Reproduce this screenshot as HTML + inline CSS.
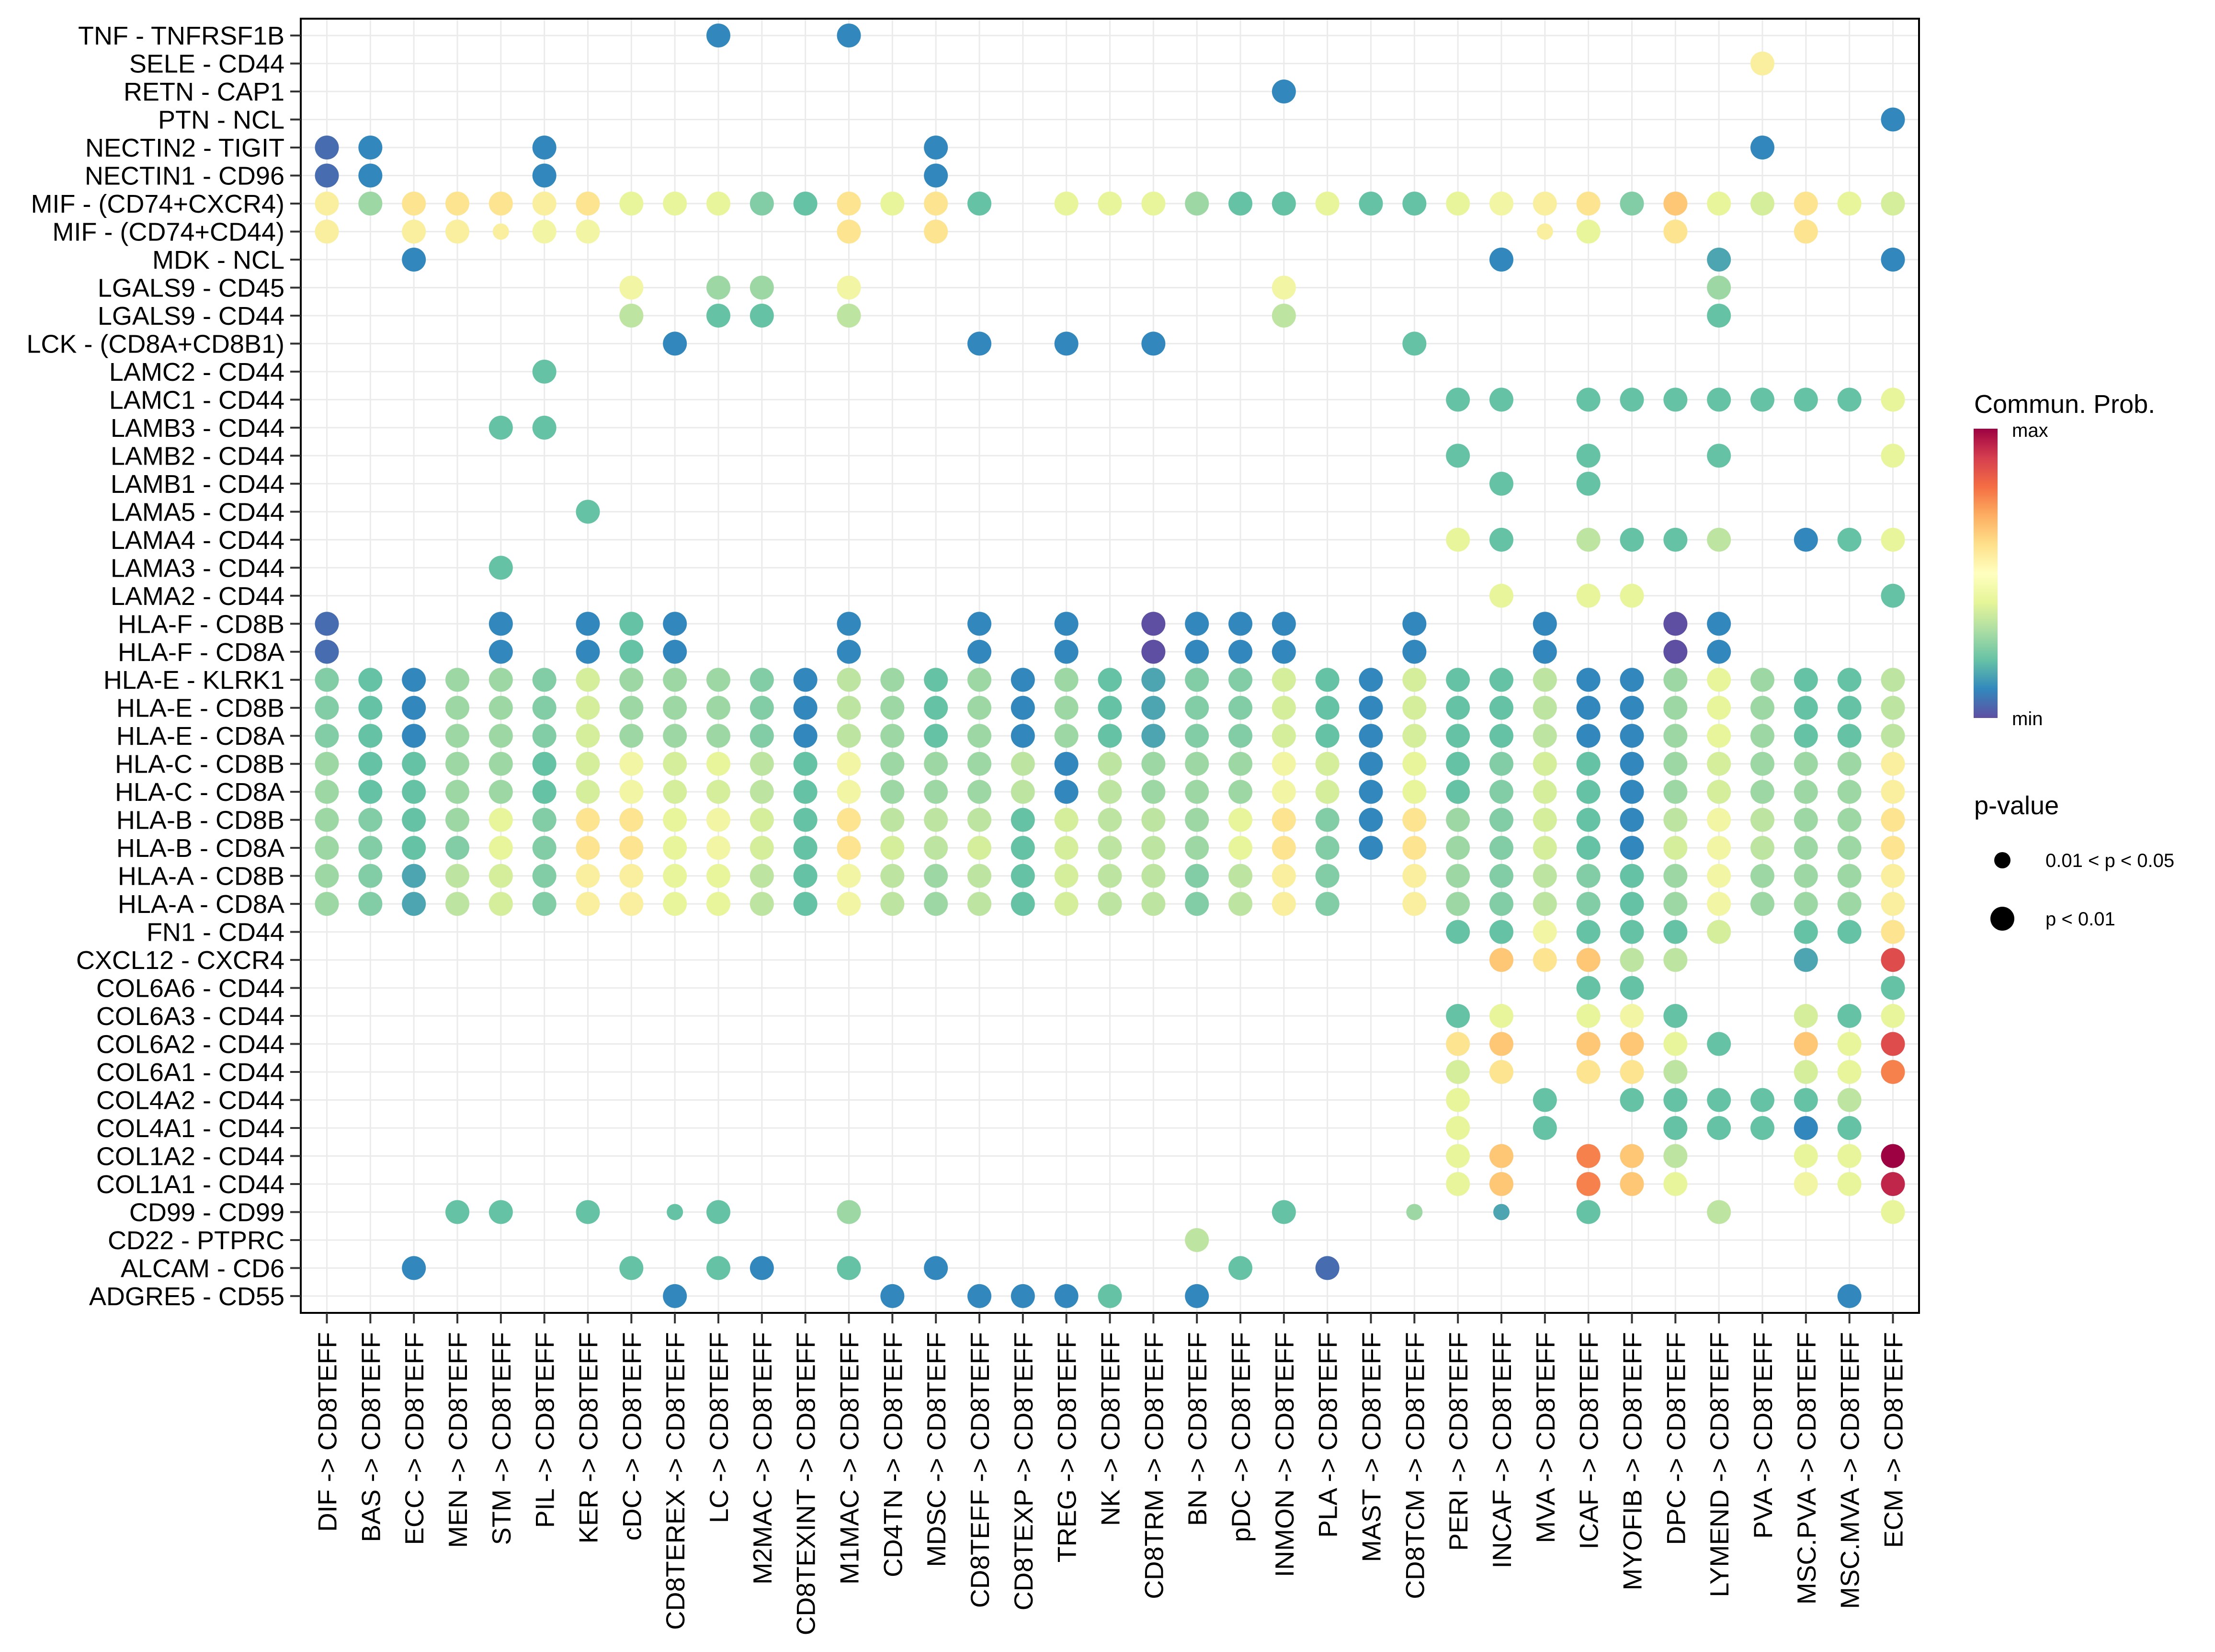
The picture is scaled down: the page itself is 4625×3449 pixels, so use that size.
<!DOCTYPE html>
<html><head><meta charset="utf-8"><title>CD8TEFF communication dot plot</title>
<style>
html,body{margin:0;padding:0;background:#fff;}
svg{display:block;font-family:"Liberation Sans",Arial,sans-serif;}
</style></head>
<body>
<svg id="chart" width="4625" height="3449" viewBox="0 0 4625 3449">
  <defs>
    <linearGradient id="spec" x1="0" y1="1" x2="0" y2="0">
      <stop offset="0" stop-color="#5E4FA2"/><stop offset="0.1" stop-color="#3288BD"/>
      <stop offset="0.2" stop-color="#66C2A5"/><stop offset="0.3" stop-color="#ABDDA4"/>
      <stop offset="0.4" stop-color="#E6F598"/><stop offset="0.5" stop-color="#FFFFBF"/>
      <stop offset="0.6" stop-color="#FEE08B"/><stop offset="0.7" stop-color="#FDAE61"/>
      <stop offset="0.8" stop-color="#F46D43"/><stop offset="0.9" stop-color="#D53E4F"/>
      <stop offset="1" stop-color="#9E0142"/>
    </linearGradient>
  </defs>
  <g id="grid"></g>
  <g id="dots"></g>
  <rect x="628" y="39" width="3379" height="2702" fill="none" stroke="#000" stroke-width="4"/>
  <g id="yaxis"></g>
  <g id="xaxis"></g>
  <g>
    <text x="4122" y="862" font-size="54">Commun. Prob.</text>
    <rect x="4121" y="895" width="50" height="604" fill="url(#spec)"/>
    <text x="4201" y="912" font-size="40">max</text>
    <text x="4201" y="1514" font-size="40">min</text>
  </g>
  <g>
    <text x="4122" y="1700" font-size="54">p-value</text>
    <circle cx="4181" cy="1796" r="17" fill="#000"/>
    <text x="4271" y="1810" font-size="40">0.01 &lt; p &lt; 0.05</text>
    <circle cx="4181" cy="1918" r="25" fill="#000"/>
    <text x="4271" y="1932" font-size="40">p &lt; 0.01</text>
  </g>
</svg>
<script>
const sources = ["DIF","BAS","ECC","MEN","STM","PIL","KER","cDC","CD8TEREX","LC","M2MAC","CD8TEXINT","M1MAC","CD4TN","MDSC","CD8TEFF","CD8TEXP","TREG","NK","CD8TRM","BN","pDC","INMON","PLA","MAST","CD8TCM","PERI","INCAF","MVA","ICAF","MYOFIB","DPC","LYMEND","PVA","MSC.PVA","MSC.MVA","ECM"];
const target = "CD8TEFF";
const pairs = ["TNF - TNFRSF1B","SELE - CD44","RETN - CAP1","PTN - NCL","NECTIN2 - TIGIT","NECTIN1 - CD96","MIF - (CD74+CXCR4)","MIF - (CD74+CD44)","MDK - NCL","LGALS9 - CD45","LGALS9 - CD44","LCK - (CD8A+CD8B1)","LAMC2 - CD44","LAMC1 - CD44","LAMB3 - CD44","LAMB2 - CD44","LAMB1 - CD44","LAMA5 - CD44","LAMA4 - CD44","LAMA3 - CD44","LAMA2 - CD44","HLA-F - CD8B","HLA-F - CD8A","HLA-E - KLRK1","HLA-E - CD8B","HLA-E - CD8A","HLA-C - CD8B","HLA-C - CD8A","HLA-B - CD8B","HLA-B - CD8A","HLA-A - CD8B","HLA-A - CD8A","FN1 - CD44","CXCL12 - CXCR4","COL6A6 - CD44","COL6A3 - CD44","COL6A2 - CD44","COL6A1 - CD44","COL4A2 - CD44","COL4A1 - CD44","COL1A2 - CD44","COL1A1 - CD44","CD99 - CD99","CD22 - PTPRC","ALCAM - CD6","ADGRE5 - CD55"];
// relative communication probability levels (0 = min, 1 = max) by code
const levelCodes = {P:0.0,p:0.05,B:0.1,T:0.15,G:0.2,H:0.24,g:0.28,h:0.33,l:0.37,L:0.42,Y:0.47,y:0.53,O:0.58,o:0.65,R:0.77,r:0.87,m:0.94,M:1.0};
// one string per pair, one char per source ("." = no interaction)
const probRows = [
".........B..B........................",
".................................y...",
"......................B..............",
"....................................B",
"pB...B........B..................B...",
"pB...B........B......................",
"ygOOOyOLLLHGOLOG.LLLgGGLGGLYyOHoLlOLl",
"y.yyyYY.....O.O.............yL.O..O..",
"..B........................B....T...B",
".......Y.gg.Y.........Y.........g....",
".......h.GG.h.........h.........G....",
"........B......B.B.B.....G...........",
".....G...............................",
"..........................GG.GGGGGGGL",
"....GG...............................",
"..........................G..G..G...L",
"...........................G.G.......",
"......G..............................",
"..........................LG.hGGh.BGL",
"....G................................",
"...........................L.LL.....G",
"p...B.BGB...B..B.B.PBBB..B..B..PB....",
"p...B.BGB...B..B.B.PBBB..B..B..PB....",
"HGBggHlgggHBhgGgBgGTHHlGBlGGhBBgLgGGh",
"HGBggHlgggHBhgGgBgGTHHlGBlGGhBBgLgGGh",
"HGBggHlgggHBhgGgBgGTHHlGBlGGhBBgLgGGh",
"gGGggGlYlLhGYggghBhgggYlBLGHlGBglgggy",
"gGGggGlYllhGYggghBhgggYlBLGHlGBglgggy",
"gHGgLHOOLYlGOhhhGlhhgLOHBOgHlGBhYhggO",
"gHGHLHOOLYlGOlhlGlhhgLOHBOgHlGBlYhggO",
"gHThlHyyLLhGYhghGlhhHhyH.ygHhHGgYgggy",
"gHThlHyyLLhGYhghGlhhHhyH.ygHhHGgYgggy",
"..........................GGYGGGl.GGO",
"...........................oOohh..T.r",
".............................GG.....G",
"..........................GL.LYG..lGL",
"..........................Oo.ooLG.oLr",
"..........................lO.OOh..lLR",
"..........................L.G.GGGGGh.",
"..........................L.G..GGGBG.",
"..........................Lo.Roh..LLM",
"..........................Lo.RoL..YLm",
"...GG.G.GG..g.........G..g.T.G..h...L",
"....................h................",
"..B....G.GB.G.B......G.p.............",
"........B....B.BBBG.B..............B."
];
// pairs/sources with 0.01 < p < 0.05 (small dots); everything else p < 0.01
const smallDots = [["MIF - (CD74+CD44)","STM"],["MIF - (CD74+CD44)","MVA"],["CD99 - CD99","CD8TEREX"],["CD99 - CD99","CD8TCM"],["CD99 - CD99","INCAF"]];

const NS = "http://www.w3.org/2000/svg";
const plotL = 628, plotR = 4007, plotT = 39, plotB = 2741;
const xStep = (plotR - plotL) / (sources.length - 1 + 1.2);
const yStep = (plotB - plotT) / (pairs.length - 1 + 1.2);
function xPos(i){ return plotL + xStep * (0.6 + i); }
function yPos(j){ return plotT + yStep * (0.6 + j); }
const stops = ["#5E4FA2","#3288BD","#66C2A5","#ABDDA4","#E6F598","#F7F5A8","#FEE08B","#FDAE61","#F46D43","#D53E4F","#9E0142"];
function hex(h){ return [1,3,5].map(k => parseInt(h.substr(k,2),16)); }
function colorOf(v){
  const t = Math.max(0, Math.min(1, v)) * 10;
  const i = Math.min(9, Math.floor(t)), f = t - i;
  const a = hex(stops[i]), b = hex(stops[i+1]);
  return "rgb(" + a.map((c,k) => Math.round(c + (b[k]-c)*f)).join(",") + ")";
}
function mk(tag, attrs){ const e = document.createElementNS(NS, tag); for (const k in attrs) e.setAttribute(k, attrs[k]); return e; }

const grid = document.getElementById("grid");
for (let i = 0; i < sources.length; i++) {
  const l = mk("line", {x1: xPos(i), x2: xPos(i), y1: plotT, y2: plotB, stroke: "#EBEBEB", "stroke-width": 3});
  
  
  grid.appendChild(l);
}
for (let j = 0; j < pairs.length; j++) {
  const l = mk("line", {x1: plotL, x2: plotR, y1: yPos(j), y2: yPos(j), stroke: "#EBEBEB", "stroke-width": 3});
  
  
  grid.appendChild(l);
}

const dots = document.getElementById("dots");
probRows.forEach((row, j) => {
  for (let i = 0; i < sources.length; i++) {
    const code = row[i];
    if (!(code in levelCodes)) continue;
    const small = smallDots.some(s => s[0] === pairs[j] && s[1] === sources[i]);
    const c = mk("circle", {cx: xPos(i), cy: yPos(j), r: small ? 17 : 25, fill: colorOf(levelCodes[code])});
    
    
    dots.appendChild(c);
  }
});

const yaxis = document.getElementById("yaxis");
pairs.forEach((p, j) => {
  const t = mk("line", {x1: plotL - 22, x2: plotL, y1: yPos(j), y2: yPos(j), stroke: "#333", "stroke-width": 4});
  
  
  yaxis.appendChild(t);
  const tx = mk("text", {x: plotL - 34, y: yPos(j) + 19, "text-anchor": "end", "font-size": 54, fill: "#000"});
  tx.textContent = p;
  
  
  yaxis.appendChild(tx);
});

const xaxis = document.getElementById("xaxis");
sources.forEach((s, i) => {
  const t = mk("line", {x1: xPos(i), x2: xPos(i), y1: plotB, y2: plotB + 22, stroke: "#333", "stroke-width": 4});
  
  
  xaxis.appendChild(t);
  const x = xPos(i) + 20, y = plotB + 40;
  const tx = mk("text", {x: x, y: y, "text-anchor": "end", "font-size": 55, fill: "#000", transform: "rotate(-90 " + x + " " + y + ")"});
  tx.textContent = s + " -> " + target;
  
  
  xaxis.appendChild(tx);
});
</script>
</body></html>
